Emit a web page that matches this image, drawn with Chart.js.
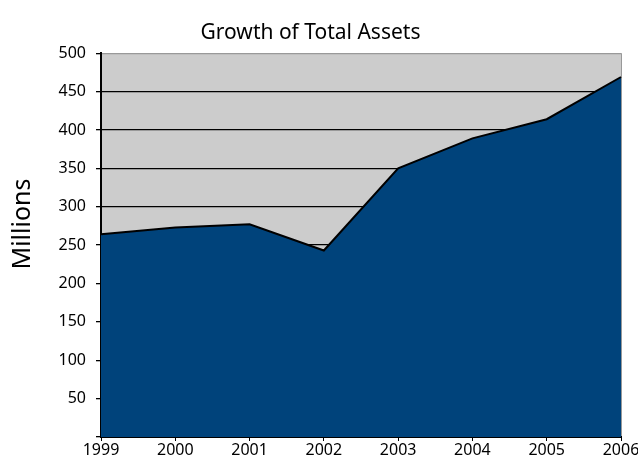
<!DOCTYPE html>
<html>
<head>
<meta charset="utf-8">
<script src="https://cdn.jsdelivr.net/npm/chart.js@4/dist/chart.umd.min.js"></script>
<style>
  html, body { margin: 0; padding: 0; background: #fff; overflow: hidden; }
  #wrap { width: 638px; height: 457px; position: relative; }
</style>
</head>
<body>
<div id="wrap"><canvas id="c"></canvas></div>
<script>
// data
const years = ['1999', '2000', '2001', '2002', '2003', '2004', '2005', '2006'];
const assets = [264, 273, 277, 243, 350, 389, 414, 469];
const yTicks = [0, 50, 100, 150, 200, 250, 300, 350, 400, 450, 500];
const yTitle = 'Millions';

const FONT = '"Noto Sans", "Open Sans", sans-serif';

// grey plot background + the y-axis caption (sits a bit above the plot centre)
const decor = {
  id: 'decor',
  beforeDraw(chart) {
    const a = chart.chartArea, ctx = chart.ctx;
    ctx.save();
    ctx.fillStyle = '#cccccc';
    ctx.fillRect(a.left, a.top, a.right - a.left, a.bottom - a.top);
    ctx.restore();
  },
  afterDraw(chart) {
    const ctx = chart.ctx;
    ctx.save();
    ctx.translate(23, 224);
    ctx.rotate(-Math.PI / 2);
    ctx.font = '25px ' + FONT;
    ctx.fillStyle = '#000';
    ctx.textAlign = 'center';
    ctx.textBaseline = 'middle';
    ctx.fillText(yTitle, 0, 0);
    ctx.restore();
  }
};

new Chart(document.getElementById('c').getContext('2d'), {
  type: 'line',
  data: {
    labels: years,
    datasets: [{
      data: assets,
      fill: 'origin',
      backgroundColor: '#00437b',
      borderColor: '#000000',
      borderWidth: 2,
      pointRadius: 0,
      tension: 0,
    }],
  },
  options: {
    responsive: true, maintainAspectRatio: false, animation: false,
    layout: { padding: { left: 0, right: 17, top: 0, bottom: 0 } },
    plugins: {
      legend: { display: false },
      tooltip: { enabled: false },
      title: {
        display: true, text: 'Growth of Total Assets', color: '#000',
        font: { family: FONT, size: 21, weight: 'normal' },
        padding: { top: 20, bottom: 8 },
      },
    },
    scales: {
      x: {
        offset: false,
        afterFit(s) { s.paddingLeft = 0; s.paddingRight = 0; s.height = 20; },
        border: { display: true, color: '#000', width: 2 },
        grid: {
          drawOnChartArea: true, drawTicks: true, tickLength: 4,
          color: (c) => c.index === years.length - 1 ? '#999999' : 'rgba(0,0,0,0)',
          tickColor: '#000',
        },
        ticks: { color: '#000', padding: 0, maxRotation: 0, autoSkip: false, font: { family: FONT, size: 16 } },
      },
      y: {
        min: yTicks[0], max: yTicks[yTicks.length - 1],
        afterFit(s) { s.width = 101; },
        afterBuildTicks(s) { s.ticks = yTicks.map(v => ({ value: v })); },
        border: { display: true, color: '#000', width: 2 },
        grid: {
          color: (c) => c.tick && c.tick.value === 500 ? '#999999' : '#000000',
          lineWidth: 1.3, tickLength: 5, tickColor: '#000',
        },
        ticks: {
          color: '#000', padding: 10, font: { family: FONT, size: 16 },
          callback: (v) => v === 0 ? '' : v,
        },
      },
    },
  },
  plugins: [decor],
});
</script>
</body>
</html>
